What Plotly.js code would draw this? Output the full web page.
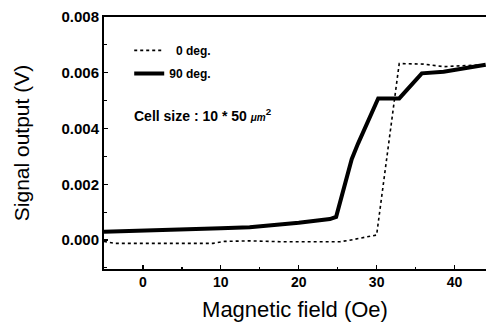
<!DOCTYPE html>
<html>
<head>
<meta charset="utf-8">
<script src="https://cdn.plot.ly/plotly-3.0.1.min.js"></script>
<style>html,body{margin:0;padding:0;background:#fff;}#chart{width:486px;height:322px;}</style>
</head>
<body>
<div id="chart"></div>
<script>
// 0 deg. series (dotted)
const field0 = [-5, -3.6, 0, 5, 9.0, 10.5, 13.7, 17.6, 22, 25.3, 26.5, 30.0, 32.9, 36.0, 38.6, 44];
const signal0 = [-0.00005, -0.00012, -0.00012, -0.00012, -0.00012, -0.00005, -0.00003, -0.00006, -0.00006, -0.00006, -0.00001, 0.00018, 0.00633, 0.00631, 0.00622, 0.00629];
// 90 deg. series (thick)
const field90 = [-5, 0, 5, 10, 13.7, 17, 20, 24, 24.8, 26.8, 27.6, 30.2, 32.9, 35.8, 38.6, 44];
const signal90 = [0.0003, 0.00033, 0.00037, 0.00042, 0.00046, 0.00053, 0.00062, 0.00075, 0.00083, 0.0029, 0.00345, 0.00508, 0.00508, 0.00598, 0.00604, 0.00629];
const names = ['\u00a0\u00a00 deg.', '90 deg.'];
const xTickVals = [0, 10, 20, 30, 40];
const yTickVals = [0.000, 0.002, 0.004, 0.006, 0.008];
const yTickText = ['0.000', '0.002', '0.004', '0.006', '0.008'];

const FONT = 'Liberation Sans, Arial, sans-serif';

const traces = [
  {x: field0, y: signal0, name: names[0], legendgroup: 'a', mode: 'lines', line: {color: '#000', width: 1.6, dash: 'dot'}},
  {x: field90, y: signal90, name: names[1], legendgroup: 'b', mode: 'lines', line: {color: '#000', width: 4}}
];

const layout = {
  width: 486, height: 322,
  margin: {l: 104, r: 0, t: 17, b: 53},
  paper_bgcolor: '#fff', plot_bgcolor: '#fff',
  font: {family: FONT, color: '#000'},
  showlegend: true,
  legend: {x: 0.066, y: 0.925, xanchor: 'left', yanchor: 'top', bgcolor: 'rgba(0,0,0,0)',
           traceorder: 'grouped', tracegroupgap: 4,
           font: {family: FONT, size: 12, weight: 'bold', color: '#000'}, itemwidth: 30},
  xaxis: {
    range: [-5, 44.04], showgrid: false, zeroline: false,
    showline: true, linecolor: '#000', linewidth: 1.6, mirror: true,
    tickmode: 'array', tickvals: xTickVals, ticks: 'inside', ticklen: 4, tickwidth: 1.3, tickcolor: '#000',
    minor: {dtick: 5, tick0: 0, ticks: 'inside', ticklen: 2.5, tickwidth: 1.2, tickcolor: '#000'},
    tickfont: {family: FONT, size: 14, weight: 'bold', color: '#000'},
    title: {text: '\u00a0Magnetic field (Oe)', font: {family: FONT, size: 22, color: '#000'}, standoff: 13}
  },
  yaxis: {
    range: [-0.00104, 0.008], showgrid: false, zeroline: false,
    showline: true, linecolor: '#000', linewidth: 2, mirror: false,
    tickmode: 'array', tickvals: yTickVals, ticktext: yTickText, ticks: 'inside', ticklen: 4, tickwidth: 1.3, tickcolor: '#000',
    minor: {dtick: 0.001, tick0: 0, ticks: 'inside', ticklen: 2.5, tickwidth: 1.2, tickcolor: '#000'},
    tickfont: {family: FONT, size: 15, weight: 'bold', color: '#000'},
    title: {text: '\u00a0\u00a0Signal output (V)', font: {family: FONT, size: 21, color: '#000'}, standoff: 26}
  },
  annotations: [{
    xref: 'paper', yref: 'paper', x: 0.072, y: 0.61, xanchor: 'left', yanchor: 'middle', showarrow: false,
    text: 'Cell size : 10 * 50 <i><span style="font-size:10px">μm</span></i><sup>2</sup>',
    font: {family: FONT, size: 14, weight: 'bold', color: '#000'}
  }]
};

Plotly.newPlot('chart', traces, layout, {displayModeBar: false, staticPlot: true});
</script>
</body>
</html>
